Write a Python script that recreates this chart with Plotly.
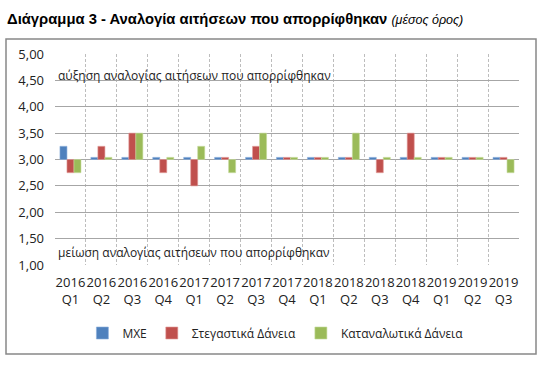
import plotly.graph_objects as go

categories = ["2016<br>Q1", "2016<br>Q2", "2016<br>Q3", "2016<br>Q4",
              "2017<br>Q1", "2017<br>Q2", "2017<br>Q3", "2017<br>Q4",
              "2018<br>Q1", "2018<br>Q2", "2018<br>Q3", "2018<br>Q4",
              "2019<br>Q1", "2019<br>Q2", "2019<br>Q3"]
mxe = [3.25, 3.04, 3.04, 3.04, 3.04, 3.04, 3.04, 3.04, 3.04, 3.04, 3.04, 3.04, 3.04, 3.04, 3.04]
stegastika = [2.75, 3.25, 3.50, 2.75, 2.50, 3.04, 3.25, 3.04, 3.04, 3.04, 2.75, 3.50, 3.04, 3.04, 3.04]
katanalotika = [2.75, 3.04, 3.50, 3.04, 3.25, 2.75, 3.50, 3.04, 3.04, 3.50, 3.04, 3.04, 3.04, 3.04, 2.75]
series_names = ["MXE", "Στεγαστικά Δάνεια", "Καταναλωτικά Δάνεια"]
colors = ["#4F81BD", "#C0504D", "#9BBB59"]
line_colors = ["#8CAEDB", "#E09A98", "#C5DA9A"]
base_value = 3.0

W, H = 543, 377
L, R, T, B = 55, 24, 54, 112
pw, ph = W - L - R, H - T - B

def px(x):
    return (x - L) / pw

def py(y):
    return (H - B - y) / ph

FONT = "Open Sans"

fig = go.Figure()
for name, vals, c, lc in zip(series_names, [mxe, stegastika, katanalotika], colors, line_colors):
    fig.add_trace(go.Bar(
        x=categories, y=[v - base_value for v in vals], base=base_value,
        name=name, marker=dict(color=c, line=dict(color=lc, width=0.6)),
    ))

fig.update_layout(
    width=W, height=H,
    margin=dict(l=L, r=R, t=T, b=B, autoexpand=False),
    paper_bgcolor="white", plot_bgcolor="white",
    separators=",.",
    barmode="group", bargap=0.32, bargroupgap=0.0,
    showlegend=True,
    legend=dict(orientation="h", x=0.475, xanchor="center", y=py(333), yanchor="middle",
                font=dict(family=FONT, size=12, color="#222"), itemwidth=30,
                tracegroupgap=0, traceorder="normal"),
    xaxis=dict(type="category", tickson="boundaries", showgrid=True,
               gridcolor="#BDBDBD", griddash="3px,2px", gridwidth=1,
               ticks="", showline=False, zeroline=False, tickangle=0,
               ticklabelstandoff=8,
               tickfont=dict(family=FONT, size=13, color="#222")),
    yaxis=dict(range=[1, 5], dtick=0.5, tickformat=".2f", showgrid=True,
               gridcolor="#A6A6A6", gridwidth=1, zeroline=False, showline=False,
               ticks="", ticklabelstandoff=10,
               tickfont=dict(family=FONT, size=13, color="#222")),
    font=dict(family=FONT),
)

fig.add_annotation(xref="paper", yref="paper", x=px(56), y=py(75), xanchor="left", yanchor="middle",
                   text="αύξηση αναλογίας αιτήσεων που απορρίφθηκαν", showarrow=False,
                   font=dict(family=FONT, size=12, color="#222"))
fig.add_annotation(xref="paper", yref="paper", x=px(56), y=py(252), xanchor="left", yanchor="middle",
                   text="μείωση αναλογίας αιτήσεων που απορρίφθηκαν", showarrow=False,
                   font=dict(family=FONT, size=12, color="#222"))
fig.add_annotation(xref="paper", yref="paper", x=px(5), y=py(19), xanchor="left", yanchor="middle",
                   text="<b>Διάγραμμα 3 - Αναλογία αιτήσεων που απορρίφθηκαν</b> <i><span style='font-size:12.5px'>(μέσος όρος)</span></i>",
                   showarrow=False, font=dict(family="Liberation Sans", size=14.8, color="black"))

fig.add_shape(type="rect", xref="paper", yref="paper", x0=px(6), x1=px(536), y0=py(354), y1=py(39),
              line=dict(color="#888888", width=1.5), fillcolor="rgba(0,0,0,0)", layer="below")

fig.write_html("out.html", config={"displayModeBar": False},
               post_script="document.body.style.margin='0';document.body.style.padding='0';")
